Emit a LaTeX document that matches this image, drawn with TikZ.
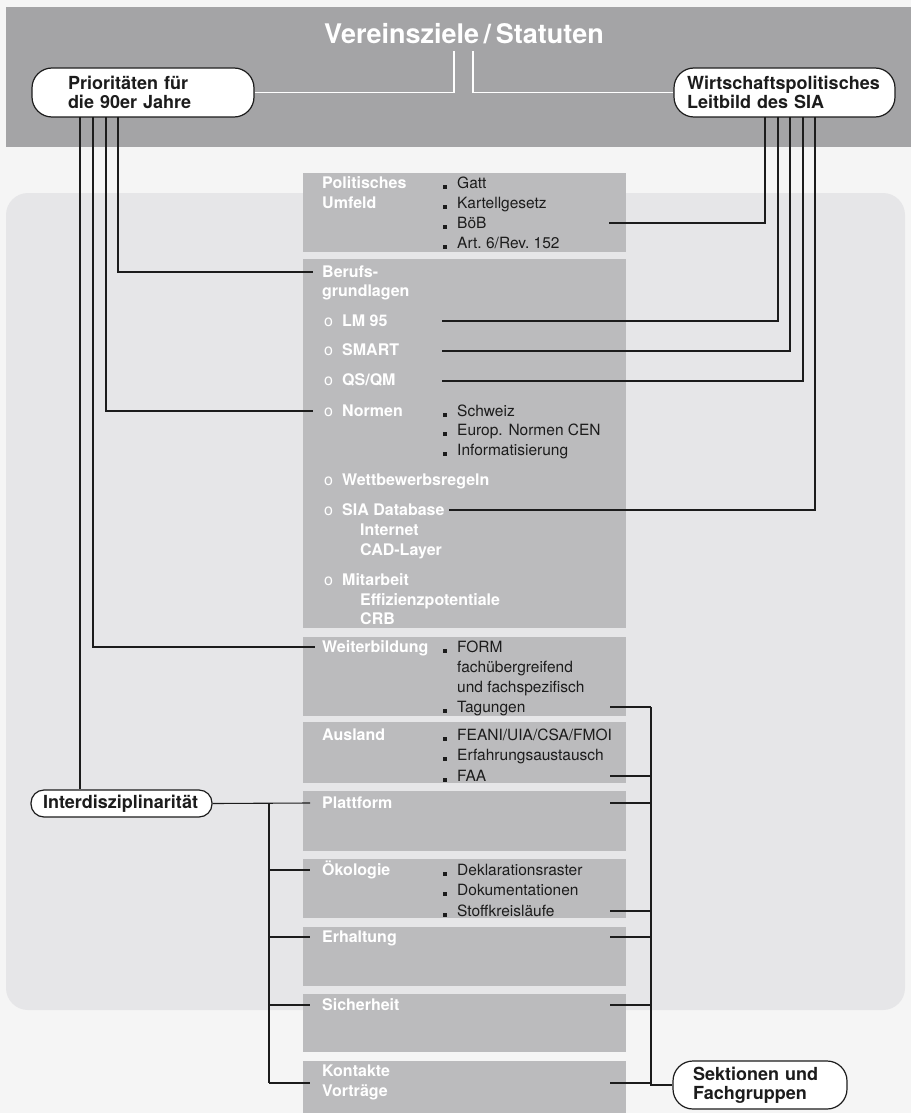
\documentclass[tikz,border=0pt]{standalone}
\usepackage{fontspec}
\setmainfont{TeX Gyre Heros}
\definecolor{paper}{HTML}{F5F5F5}
\definecolor{photogray}{HTML}{E6E6E8}
\definecolor{bandgray}{HTML}{A4A4A6}
\definecolor{blockgray}{HTML}{BBBBBD}
\definecolor{ink}{HTML}{1C1C1C}
\newcommand{\sq}{\makebox[14pt][l]{\rule{3.6pt}{3.6pt}}}
\newcommand{\ci}{\makebox[18pt][l]{\mdseries o}}
\begin{document}
\begin{tikzpicture}[x=1pt,y=-1pt,
    box node/.style={draw=ink,fill=white,line width=1.2pt,rounded corners=20pt,inner sep=0pt,align=left,
        minimum height=49pt,text=ink,font=\bfseries\fontsize{18}{19}\selectfont},
    head/.style={anchor=west,inner sep=0pt,text=white,text height=11.5pt,text depth=0pt,
        font=\bfseries\fontsize{16}{20}\selectfont},
    item/.style={anchor=west,inner sep=0pt,text=ink,text height=11pt,text depth=0pt,
        font=\fontsize{15.5}{20}\selectfont},
    link/.style={draw=ink,line width=1.1pt},
    title line/.style={draw=white,line width=1.4pt}]
    \useasboundingbox (0,0) rectangle (911,1113);
    \fill[paper] (0,0) rectangle (911,1113);
    \fill[photogray,rounded corners=22pt] (6,193) rectangle (905,1010);
    \fill[bandgray] (6,7) rectangle (911,147);

    % column blocks
    \foreach \ya/\yb in {173/252,259/628,637/716,722/783,791/851,859/918,927/986,994/1052,1061/1113}
        \fill[blockgray] (303,\ya) rectangle (626,\yb);

    \node[text=white,inner sep=0pt,text height=19.4pt,text depth=0pt,font=\bfseries\fontsize{27}{27}\selectfont]
        at (464,34) (title) {Vereinsziele\,/\,Statuten};
    \node[box node,minimum width=222pt,text width=150pt] at (143,92.5) (prio) {Prioritäten für\\die 90er Jahre};
    \node[box node,minimum width=221pt,text width=195pt] at (784.5,92.5) (wirt) {Wirtschaftspolitisches\\Leitbild des SIA};
    \node[box node,minimum width=181pt,minimum height=27pt,rounded corners=13pt,text width=157pt] at (121.5,803.5) (inter) {Interdisziplinarität};
    \node[box node,minimum width=174pt,minimum height=48pt,text width=134pt] at (760,1085) (sekt) {Sektionen und\\Fachgruppen};

    % Politisches Umfeld
    \node[head] at (322,183) (polit) {Politisches};
    \node[head] at (322,203) (umfeld) {Umfeld};
    \node[item] at (443,183) (gatt) {\sq Gatt};
    \node[item] at (443,203) (kartell) {\sq Kartellgesetz};
    \node[item] at (443,223) (boeb) {\sq BöB};
    \node[item] at (443,243) (art) {\sq Art.~6/Rev.~152};

    % Berufsgrundlagen
    \node[head] at (322,272) (beruf) {Berufs-};
    \node[head] at (322,291) (grundl) {grundlagen};
    \node[head] at (324,321) (lm) {\ci LM 95};
    \node[head] at (324,350) (smart) {\ci SMART};
    \node[head] at (324,380) (qs) {\ci QS/QM};
    \node[head] at (324,411) (normen) {\ci Normen};
    \node[item] at (443,411) (schweiz) {\sq Schweiz};
    \node[item] at (443,430) (cen) {\sq Europ. Normen CEN};
    \node[item] at (443,450) (info) {\sq Informatisierung};
    \node[head] at (324,480) (wettb) {\ci Wettbewerbsregeln};
    \node[head] at (324,510) (siadb) {\ci SIA Database};
    \node[head] at (360,530) (internet) {Internet};
    \node[head] at (360,550) (cad) {CAD-Layer};
    \node[head] at (324,580) (mitarb) {\ci Mitarbeit};
    \node[head] at (360,600) (effiz) {Effizienzpotentiale};
    \node[head] at (360,619) (crb) {CRB};

    % Weiterbildung, Ausland
    \node[head] at (322,647) (weiter) {Weiterbildung};
    \node[item] at (443,647) (form) {\sq FORM};
    \node[item] at (457,667) (fachu) {fachübergreifend};
    \node[item] at (457,687) (fachs) {und fachspezifisch};
    \node[item] at (443,707) (tagung) {\sq Tagungen};
    \node[head] at (322,735) (ausland) {Ausland};
    \node[item] at (443,735) (feani) {\sq FEANI/UIA/CSA/FMOI};
    \node[item] at (443,755) (erfahr) {\sq Erfahrungsaustausch};
    \node[item] at (443,776) (faa) {\sq FAA};

    % Plattform bis Kontakte
    \node[head] at (322,803) (platt) {Plattform};
    \node[head] at (322,870) (oeko) {Ökologie};
    \node[item] at (443,870) (dekl) {\sq Deklarationsraster};
    \node[item] at (443,890) (doku) {\sq Dokumentationen};
    \node[item] at (443,911) (stoff) {\sq Stoffkreisläufe};
    \node[head] at (322,937) (erhalt) {Erhaltung};
    \node[head] at (322,1005) (sicher) {Sicherheit};
    \node[head] at (322,1071) (kontakt) {Kontakte};
    \node[head] at (322,1091) (vortr) {Vorträge};

    % title to the two boxes
    \coordinate (t1) at (454,51);
    \coordinate (t2) at (473,51);
    \path[title line] (t1) |- (prio.east);
    \path[title line] (t2) |- (wirt.west);

    % from the Prioritaeten box
    \coordinate (p1) at (118,117);
    \coordinate (p2) at (106,117);
    \coordinate (p3) at (93,117);
    \coordinate (p4) at (80,117);
    \path[link] (p1) |- ([xshift=-9pt]beruf.west);
    \path[link] (p2) |- ([xshift=-11pt]normen.west);
    \path[link] (p3) |- ([xshift=-7pt]weiter.west);
    \path[link] (p4) -- (p4 |- inter.north);

    % from the Leitbild box
    \coordinate (w1) at (765,117);
    \coordinate (w2) at (778,117);
    \coordinate (w3) at (790,117);
    \coordinate (w4) at (803,117);
    \coordinate (w5) at (815,117);
    \coordinate (boeb-r) at (609,223);
    \coordinate (lm-r) at (442,321);
    \coordinate (smart-r) at (442,351);
    \coordinate (qs-r) at (442,381);
    \path[link] (w1) |- (boeb-r);
    \path[link] (w2) |- (lm-r);
    \path[link] (w3) |- (smart-r);
    \path[link] (w4) |- (qs-r);
    \path[link] (w5) |- ([xshift=4pt]siadb.east);

    % Interdisziplinaritaet
    \coordinate (bus-l) at (269,803);
    \path[link] (inter.east) -- ([xshift=-12pt]platt.west);
    \foreach \n/\y in {oeko/870,erhalt/937,sicher/1005,kontakt/1083}{
        \coordinate (\n-l) at (310,\y);
        \path[link] (\n-l -| bus-l) -- (\n-l);
    }
    \path[link] (bus-l) -- (kontakt-l -| bus-l);

    % Sektionen und Fachgruppen
    \coordinate (bus-r) at (651,707);
    \foreach \n/\y in {tagung/707,faa/776,platt/803,stoff/911,erhalt/937,sicher/1005,kontakt/1083}{
        \coordinate (\n-r) at (610,\y);
        \path[link] (\n-r) -- (\n-r -| bus-r);
    }
    \path[link] (bus-r) |- (sekt.west);
\end{tikzpicture}
\end{document}
